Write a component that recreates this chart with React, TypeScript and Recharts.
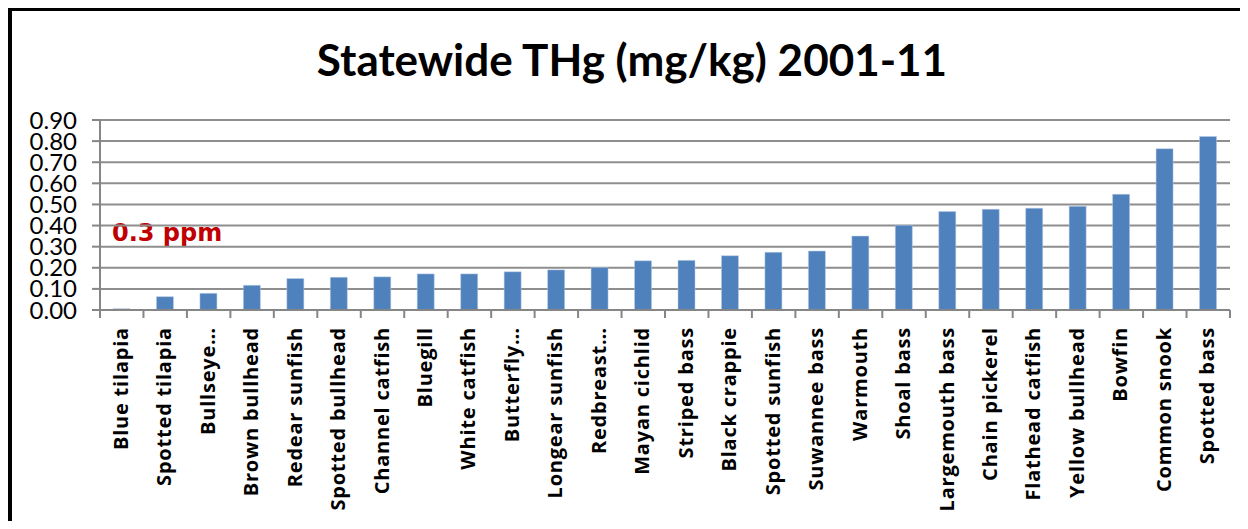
import React from "react";
import { Bar, BarChart, CartesianGrid, XAxis, YAxis } from "recharts";

const species = [
  "Blue tilapia",
  "Spotted tilapia",
  "Bullseye…",
  "Brown bullhead",
  "Redear sunfish",
  "Spotted bullhead",
  "Channel catfish",
  "Bluegill",
  "White catfish",
  "Butterfly…",
  "Longear sunfish",
  "Redbreast…",
  "Mayan cichlid",
  "Striped bass",
  "Black crappie",
  "Spotted sunfish",
  "Suwannee bass",
  "Warmouth",
  "Shoal bass",
  "Largemouth bass",
  "Chain pickerel",
  "Flathead catfish",
  "Yellow bullhead",
  "Bowfin",
  "Common snook",
  "Spotted bass",
];

const thg = [
  0.006, 0.063, 0.079, 0.117, 0.149, 0.155, 0.157, 0.171, 0.171, 0.181, 0.19,
  0.201, 0.233, 0.235, 0.257, 0.273, 0.279, 0.35, 0.401, 0.466, 0.477, 0.482,
  0.491, 0.548, 0.764, 0.822,
];

const yTicks = [0, 0.1, 0.2, 0.3, 0.4, 0.5, 0.6, 0.7, 0.8, 0.9];

const data = species.map((name, i) => ({ name, thg: thg[i] }));

const TITLE_FONT = "Lato, 'Open Sans', sans-serif";
const LABEL_FONT = "'Open Sans', sans-serif";
const AXIS = "#868686";

function SpeciesTick(props: any) {
  const { x, y, payload, index, width, visibleTicksCount } = props;
  const step = width / visibleTicksCount;
  return (
    <g>
      <line x1={x - step / 2} y1={y - 8} x2={x - step / 2} y2={y} stroke={AXIS} strokeWidth={2} />
      {index === visibleTicksCount - 1 && (
        <line x1={x + step / 2} y1={y - 8} x2={x + step / 2} y2={y} stroke={AXIS} strokeWidth={2} />
      )}
      <text
        x={0}
        y={0}
        transform={`translate(${x + 6},${y + 9}) rotate(-90)`}
        textAnchor="end"
        fontFamily={LABEL_FONT}
        fontWeight="bold"
        fontSize={20}
        letterSpacing={0.8}
        fill="#000"
      >
        {payload.value}
      </text>
    </g>
  );
}

export default function App() {
  return (
    <div
      style={{
        position: "relative",
        width: 1232,
        height: 513,
        boxSizing: "border-box",
        borderTop: "3px solid #000",
        borderLeft: "4px solid #000",
        background: "#fff",
      }}
    >
      <div
        style={{
          position: "absolute",
          left: 0,
          width: 1240,
          top: 22,
          textAlign: "center",
          fontFamily: TITLE_FONT,
          fontWeight: "bold",
          fontSize: 44,
          lineHeight: "52px",
          color: "#000",
        }}
      >
        Statewide THg (mg/kg) 2001-11
      </div>
      <div
        style={{
          position: "absolute",
          left: 100,
          top: 207,
          fontFamily: "'DejaVu Sans', sans-serif",
          fontWeight: "bold",
          fontSize: 24,
          lineHeight: "30px",
          color: "#c00000",
        }}
      >
        0.3 ppm
      </div>
      <BarChart
        width={1228}
        height={510}
        data={data}
        margin={{ top: 109, right: 10, left: 0, bottom: 0 }}
        barSize={17}
      >
        <CartesianGrid vertical={false} stroke="#8e8e8e" strokeWidth={2} />
        <XAxis
          dataKey="name"
          interval={0}
          height={211}
          tickLine={false}
          stroke={AXIS}
          strokeWidth={2}
          tick={<SpeciesTick />}
        />
        <YAxis
          width={88}
          domain={[0, 0.9]}
          ticks={yTicks}
          interval={0}
          tickFormatter={(v: number) => v.toFixed(2)}
          tickSize={8}
          tickMargin={15}
          stroke={AXIS}
          strokeWidth={2}
          tick={{ fill: "#000", fontFamily: TITLE_FONT, fontSize: 24 }}
        />
        <Bar dataKey="thg" fill="#4f81bd" stroke="#b9cde5" strokeWidth={0.5} isAnimationActive={false} />
      </BarChart>
    </div>
  );
}
